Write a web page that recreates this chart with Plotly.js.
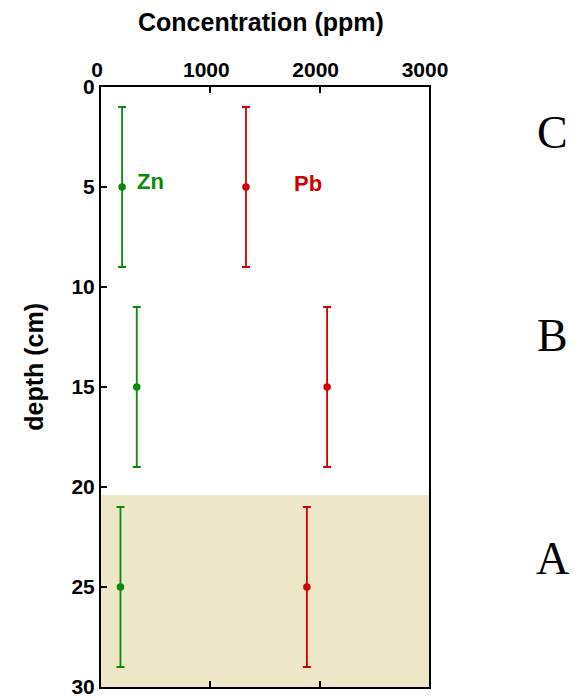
<!DOCTYPE html>
<html>
<head>
<meta charset="utf-8">
<script src="https://cdn.plot.ly/plotly-3.0.1.min.js"></script>
<style>html,body{margin:0;padding:0;background:#fff;}#chart{width:577px;height:700px;}</style>
</head>
<body>
<div id="chart"></div>
<script>
var depth = [5, 15, 25];
var znConc = [193, 327, 178];
var pbConc = [1326, 2068, 1883];
var depthErr = [4, 4, 4];
var xTicks = [0, 1000, 2000, 3000];
var yTicks = [0, 5, 10, 15, 20, 25, 30];
var zoneNames = ['C', 'B', 'A'];
var zoneDepth = [2.27, 12.4, 23.55];
var shadeTop = 20.4;

var green = '#0a8a0a', red = '#d00000';
var fam = 'Liberation Sans, Arial, sans-serif';

function series(x, col) {
  return {
    x: x, y: depth, type: 'scatter', mode: 'markers',
    marker: {color: col, size: 7.5},
    error_y: {type: 'data', array: depthErr, visible: true, color: col, thickness: 1.8, width: 4},
    showlegend: false, hoverinfo: 'x+y'
  };
}

var annotations = [
  {x: 452, y: 4.7, xref: 'x', yref: 'y', text: 'Zn', showarrow: false, xanchor: 'center', yanchor: 'middle',
   font: {family: fam, size: 22, color: green, weight: 'bold'}},
  {x: 1890, y: 4.8, xref: 'x', yref: 'y', text: 'Pb', showarrow: false, xanchor: 'center', yanchor: 'middle',
   font: {family: fam, size: 22, color: red, weight: 'bold'}},
  {x: 0.489, y: 1.108, xref: 'paper', yref: 'paper', text: 'Concentration (ppm)', showarrow: false,
   xanchor: 'center', yanchor: 'middle',
   font: {family: fam, size: 25, color: '#000', weight: 'bold'}},
  {x: -0.207, y: 0.534, xref: 'paper', yref: 'paper', text: 'depth (cm)', textangle: -90, showarrow: false,
   xanchor: 'center', yanchor: 'middle',
   font: {family: fam, size: 25, color: '#000', weight: 'bold'}}
];
zoneNames.forEach(function (n, i) {
  annotations.push({x: 1.378, y: zoneDepth[i], xref: 'paper', yref: 'y', text: n, showarrow: false,
    xanchor: 'center', yanchor: 'middle',
    font: {family: 'Liberation Serif, Times New Roman, serif', size: 46, color: '#000'}});
});

var layout = {
  width: 577, height: 700,
  margin: {l: 100.5, r: 148, t: 87, b: 13},
  paper_bgcolor: '#fff', plot_bgcolor: 'rgba(0,0,0,0)',
  xaxis: {
    range: [0, 3000], side: 'top', tickvals: xTicks, ticktext: xTicks.map(String),
    ticks: 'inside', ticklen: 6, tickwidth: 2, tickcolor: '#000', ticklabelshift: -4,
    showline: true, linewidth: 2, linecolor: '#000', mirror: 'allticks',
    showgrid: false, zeroline: false, fixedrange: true,
    tickfont: {family: fam, size: 21, color: '#000', weight: 'bold'}
  },
  yaxis: {
    range: [30, 0], tickvals: yTicks, ticktext: yTicks.map(String),
    ticks: 'inside', ticklen: 6, tickwidth: 2, tickcolor: '#000',
    showline: true, linewidth: 2, linecolor: '#000', mirror: true,
    showgrid: false, zeroline: false, fixedrange: true,
    tickfont: {family: fam, size: 21, color: '#000', weight: 'bold'}
  },
  shapes: [{type: 'rect', xref: 'paper', yref: 'y', x0: 0, x1: 1, y0: shadeTop, y1: 30,
    fillcolor: '#eee7c7', line: {width: 0}, layer: 'below'}],
  annotations: annotations
};

Plotly.newPlot('chart', [series(znConc, green), series(pbConc, red)], layout, {displayModeBar: false, staticPlot: true});
</script>
</body>
</html>
